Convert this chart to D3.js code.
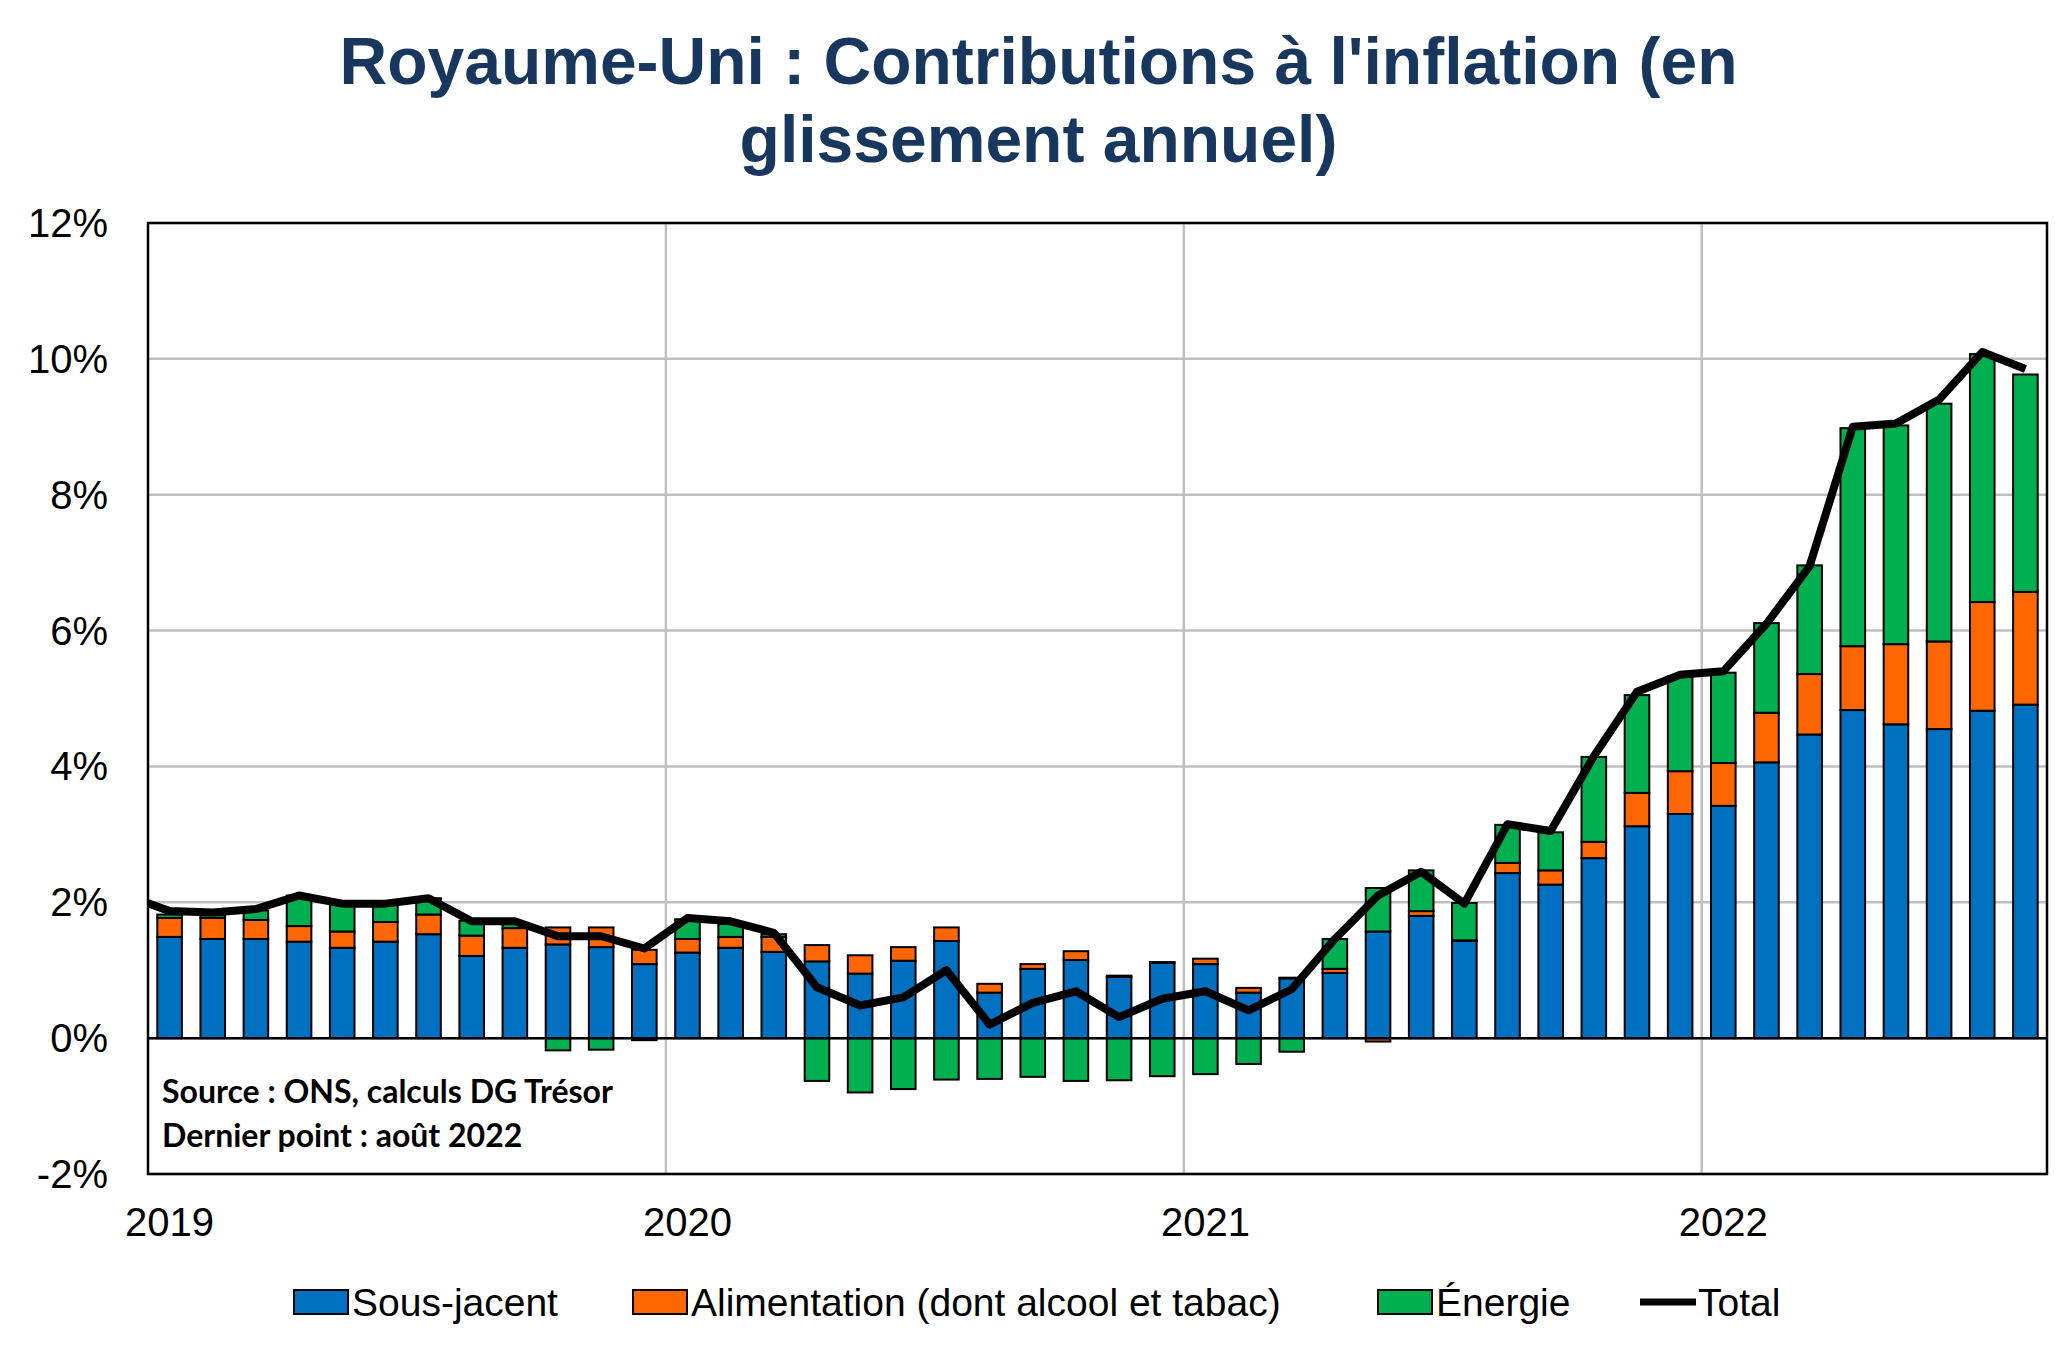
<!DOCTYPE html>
<html><head><meta charset="utf-8">
<script src="https://cdn.jsdelivr.net/npm/d3@7"></script>
<style>body{margin:0;background:#fff}</style>
</head><body>
<div id="chart"></div>
<script>
// monthly data, Jan 2019 .. Aug 2022
var months = d3.range(44);
var years = ["2019","2020","2021","2022"];
var sousJacent = [1.49,1.46,1.46,1.42,1.33,1.42,1.53,1.21,1.33,1.38,1.34,1.09,
  1.26,1.33,1.27,1.13,0.95,1.14,1.43,0.67,1.02,1.15,0.90,1.11,
  1.09,0.67,0.88,0.96,1.57,1.80,1.43,2.43,2.26,2.65,3.12,3.30,
  3.42,4.06,4.47,4.83,4.62,4.55,4.82,4.91];
var alimentation = [0.28,0.31,0.28,0.23,0.24,0.29,0.29,0.30,0.29,0.25,0.29,0.21,
  0.20,0.16,0.22,0.24,0.27,0.20,0.20,0.13,0.07,0.13,0.02,0.01,
  0.08,0.07,0.01,0.06,-0.05,0.07,0.01,0.15,0.21,0.24,0.49,0.63,
  0.63,0.73,0.89,0.94,1.18,1.29,1.60,1.66];
var energie = [0.05,0.04,0.14,0.45,0.41,0.25,0.24,0.22,0.06,-0.18,-0.17,-0.03,
  0.29,0.19,0.04,-0.63,-0.80,-0.75,-0.61,-0.60,-0.57,-0.63,-0.62,-0.56,
  -0.53,-0.38,-0.20,0.44,0.64,0.60,0.55,0.56,0.56,1.25,1.44,1.40,
  1.33,1.32,1.60,3.21,3.22,3.50,3.65,3.20];
// total starts with Dec 2018 (index -1)
var total = [2.1,1.87,1.85,1.90,2.10,1.98,1.98,2.06,1.72,1.72,1.50,1.50,1.32,
  1.77,1.72,1.55,0.75,0.48,0.60,1.00,0.20,0.52,0.69,0.31,0.58,
  0.69,0.41,0.72,1.46,2.10,2.45,1.98,3.15,3.05,4.15,5.10,5.35,
  5.40,6.10,6.95,9.00,9.05,9.40,10.10,9.85];
var yTicks = [-2,0,2,4,6,8,10,12];

var W = 2067, H = 1346;
var margin = {top: 223, right: 20, bottom: 172, left: 148};
var width = W - margin.left - margin.right,
    height = H - margin.top - margin.bottom;

var svg = d3.select("#chart").append("svg")
    .attr("width", W).attr("height", H)
    .style("font-family", "Arial, 'Liberation Sans', sans-serif");

svg.append("text").attr("x", W/2 + 5).attr("y", 84).attr("text-anchor","middle")
  .attr("font-size", 66).attr("font-weight","bold").attr("fill","#17375E")
  .text("Royaume-Uni : Contributions à l'inflation (en");
svg.append("text").attr("x", W/2 + 5).attr("y", 162).attr("text-anchor","middle")
  .attr("font-size", 66).attr("font-weight","bold").attr("fill","#17375E")
  .text("glissement annuel)");

var g = svg.append("g").attr("transform","translate(" + margin.left + "," + margin.top + ")");

var x = d3.scaleBand().domain(months).range([0, width]).paddingInner(0.43).paddingOuter(0.215);
var y = d3.scaleLinear().domain([-2, 12]).range([height, 0]);

// grid
g.selectAll(".hgrid").data(yTicks).enter().append("line")
  .attr("x1", 0).attr("x2", width)
  .attr("y1", function(d){ return y(d); }).attr("y2", function(d){ return y(d); })
  .attr("stroke", "#BFBFBF").attr("stroke-width", 2.5);
g.selectAll(".vgrid").data([12,24,36]).enter().append("line")
  .attr("x1", function(d){ return x(d) - x.step()*x.paddingInner()/2; })
  .attr("x2", function(d){ return x(d) - x.step()*x.paddingInner()/2; })
  .attr("y1", 0).attr("y2", height)
  .attr("stroke", "#BFBFBF").attr("stroke-width", 2.5);

// y labels
g.selectAll(".ylab").data(yTicks).enter().append("text")
  .attr("x", -40).attr("y", function(d){ return y(d) + 14; })
  .attr("text-anchor","end").attr("font-size", 40).attr("fill","#000")
  .text(function(d){ return d + "%"; });

// year labels
g.selectAll(".xlab").data(years).enter().append("text")
  .attr("x", function(d,i){ return x(i*12) + x.bandwidth()/2; })
  .attr("y", height + 62).attr("text-anchor","middle")
  .attr("font-size", 40).attr("fill","#000")
  .text(function(d){ return d; });

// stacked bars
var rows = months.map(function(i){ return {i: i, s: sousJacent[i], a: alimentation[i], e: energie[i]}; });
var keys = ["s","a","e"];
var colors = {s: "#0070C0", a: "#FF6600", e: "#00B050"};
var series = d3.stack().keys(keys).offset(d3.stackOffsetDiverging)(rows);

g.selectAll(".serie").data(series).enter().append("g")
  .attr("fill", function(d){ return colors[d.key]; })
  .selectAll("rect").data(function(d){ return d; }).enter().append("rect")
  .attr("x", function(d){ return x(d.data.i); })
  .attr("width", x.bandwidth())
  .attr("y", function(d){ return y(Math.max(d[0], d[1])); })
  .attr("height", function(d){ return Math.abs(y(d[0]) - y(d[1])); })
  .attr("stroke", "#000").attr("stroke-width", 2);

// zero line
g.append("line").attr("x1",0).attr("x2",width).attr("y1",y(0)).attr("y2",y(0))
  .attr("stroke","#000").attr("stroke-width",2.5);

// total line
g.append("clipPath").attr("id","clip").append("rect").attr("width",width).attr("height",height);
g.append("path").datum(total)
  .attr("clip-path","url(#clip)")
  .attr("fill","none").attr("stroke","#000").attr("stroke-width",8).attr("stroke-linejoin","round")
  .attr("d", d3.line()
    .x(function(d,i){ return x(0) + x.bandwidth()/2 + (i-1)*x.step(); })
    .y(function(d){ return y(d); }));

// frame
g.append("rect").attr("width",width).attr("height",height)
  .attr("fill","none").attr("stroke","#000").attr("stroke-width",2.5);

// source
var src = g.append("g").attr("font-family","Lato, 'Open Sans', sans-serif")
  .attr("font-weight","bold").attr("font-size",32).attr("fill","#000");
src.append("text").attr("x", 14).attr("y", y(-0.95)).text("Source : ONS, calculs DG Trésor");
src.append("text").attr("x", 14).attr("y", y(-1.6)).text("Dernier point : août 2022");

// legend
var legend = [
  {label: "Sous-jacent", color: "#0070C0", x: 294},
  {label: "Alimentation (dont alcool et tabac)", color: "#FF6600", x: 633},
  {label: "Énergie", color: "#00B050", x: 1378},
  {label: "Total", line: true, x: 1640}
];
var lg = svg.append("g").attr("transform","translate(0,1302)");
legend.forEach(function(l){
  if (l.line) {
    lg.append("line").attr("x1", l.x).attr("x2", l.x+56).attr("y1",0).attr("y2",0)
      .attr("stroke","#000").attr("stroke-width",7);
  } else {
    lg.append("rect").attr("x", l.x).attr("y",-12).attr("width",54).attr("height",24)
      .attr("fill", l.color).attr("stroke","#000").attr("stroke-width",2);
  }
  lg.append("text").attr("x", l.x + 58).attr("y", 14).attr("font-size", 39).attr("fill","#000").text(l.label);
});
</script>
</body></html>
